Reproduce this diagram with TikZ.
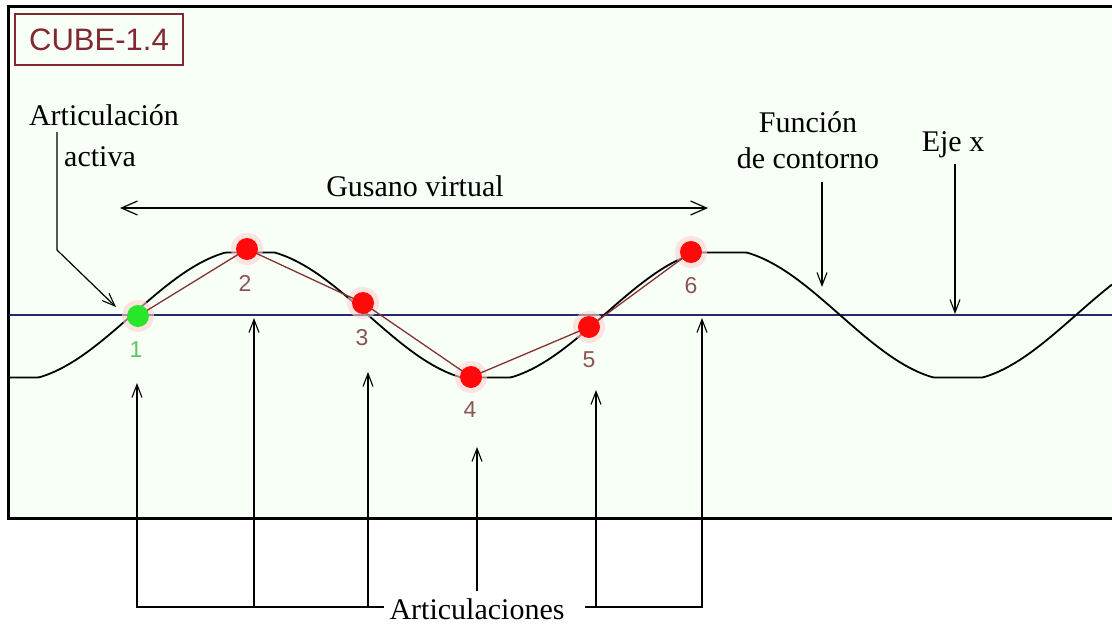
\documentclass[tikz,border=0pt]{standalone}
\usepackage{fontspec}
\setmainfont{Liberation Serif}
\newfontfamily\pixsans{Liberation Sans}
\usetikzlibrary{arrows.meta}
\definecolor{bgin}{RGB}{247,255,246}
\definecolor{axisblue}{RGB}{40,40,100}
\definecolor{linkred}{RGB}{130,50,50}
\definecolor{numred}{RGB}{140,85,85}
\definecolor{cubered}{RGB}{130,40,50}
\definecolor{jred}{RGB}{255,10,10}
\definecolor{jgreen}{RGB}{40,230,40}
\definecolor{numgreen}{RGB}{90,200,90}
\tikzset{
  lbl/.style={font=\fontsize{30}{34}\selectfont, inner sep=0pt, anchor=base},
  num/.style={font=\pixsans\fontsize{23}{26}\selectfont, text=numred, inner sep=0pt},
  ptr/.style={line width=1.2pt, -{Straight Barb[length=13pt,width=10pt,line width=1.1pt]}},
  dptr/.style={line width=1.3pt, {Straight Barb[length=16pt,width=14pt,line width=1.2pt]}-{Straight Barb[length=16pt,width=14pt,line width=1.2pt]}},
  plain/.style={line width=1.2pt},
  joint/.style={circle, fill=jred, minimum size=22pt, inner sep=0pt},
  halo/.style={circle, fill=red!18, minimum size=32pt, inner sep=0pt, opacity=0.6},
}
\begin{document}
\begin{tikzpicture}[x=1pt,y=-1pt]
\useasboundingbox (0,0) rectangle (1112,624);
\fill[white] (0,0) rectangle (1112,624);
\fill[bgin] (9,7) rectangle (1112,518);
% frame
\draw[line width=3pt] (8.5,519) -- (8.5,6.5) -- (1112,6.5);
\draw[line width=3pt] (7,518.5) -- (1112,518.5);
% CUBE box
\node[draw=cubered, line width=1.5pt, minimum width=168pt, minimum height=51pt, inner sep=0pt,
      font=\pixsans\fontsize{31}{34}\selectfont, text=cubered] (cube) at (99,39.5) {CUBE-1.4};
% x axis
\draw[axisblue, line width=1.8pt] (9,315) -- (1112,315);
% contour function
\draw[black, line width=1.8pt] plot[domain=9:1112, samples=400, smooth]
  (\x, {315 - max(-62.5, min(62.5, 66*sin((\x-132)/472*360)))});
% joints
\foreach \n/\px/\py in {1/138/316,2/247/249,3/363/303,4/471/377,5/589/327,6/691/252}{
  \node[halo] at (\px,\py) {};
}
\coordinate (c1) at (138,316);
\coordinate (c2) at (247,249);
\coordinate (c3) at (363,303);
\coordinate (c4) at (471,377);
\coordinate (c5) at (589,327);
\coordinate (c6) at (691,252);
\draw[linkred, line width=1.3pt] (c1) -- (c2) -- (c3) -- (c4) -- (c5) -- (c6);
\node[joint, fill=jgreen] (j1) at (c1) {};
\node[joint] (j2) at (c2) {};
\node[joint] (j3) at (c3) {};
\node[joint] (j4) at (c4) {};
\node[joint] (j5) at (c5) {};
\node[joint] (j6) at (c6) {};
% numbers
\node[num, text=numgreen] (n1) at (136,350) {1};
\node[num] (n2) at (245,283) {2};
\node[num] (n3) at (362,338) {3};
\node[num] (n4) at (470,410) {4};
\node[num] (n5) at (589,360) {5};
\node[num] (n6) at (691,286) {6};
% labels
\node[lbl] (aa1) at (104,125) {Articulación};
\node[lbl] (aa2) at (100,166) {activa};
\node[lbl] (gus) at (415,196) {Gusano virtual};
\node[lbl] (fc1) at (808,132) {Función};
\node[lbl] (fc2) at (808,168) {de contorno};
\node[lbl] (eje) at (953,151) {Eje x};
\node[lbl] (art) at (477,619) {Articulaciones};
% arrows from labels
\coordinate (aas) at (57,132);
\coordinate (aab) at (57,250);
\coordinate (aat) at (116,307);
\draw[ptr] (aas) -- (aab) -- (aat);
\coordinate (gl) at (120,208);
\coordinate (gr) at (708,208);
\draw[dptr] (gl) -- (gr);
\coordinate (fcs) at (822,182);
\coordinate (fct) at (822,287);
\draw[ptr] (fcs) -- (fct);
\coordinate (ejs) at (955,164);
\coordinate (ejt) at (955,314);
\draw[ptr] (ejs) -- (ejt);
% Articulaciones brackets
\coordinate (bl) at (384,607);
\coordinate (br) at (585,607);
\coordinate (t1) at (137,383);
\coordinate (t2) at (254,318);
\coordinate (t3) at (368,372);
\coordinate (t4) at (477,447);
\coordinate (t5) at (596,390);
\coordinate (t6) at (702,318);
\draw[ptr] (bl) -| (t1);
\draw[ptr] (t2 |- bl) -- (t2);
\draw[ptr] (t3 |- bl) -- (t3);
\draw[ptr] (477,591) -- (t4);
\draw[ptr] (t5 |- br) -- (t5);
\draw[ptr] (br) -| (t6);
\end{tikzpicture}
\end{document}
